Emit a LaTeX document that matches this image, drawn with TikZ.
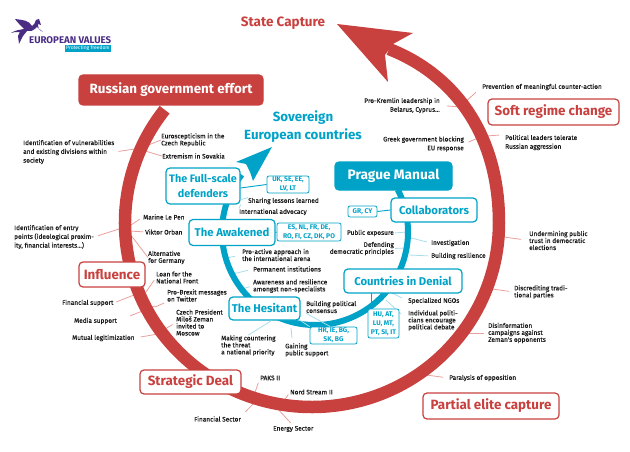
\documentclass[tikz,border=0pt]{standalone}
\usepackage{fontspec}
\setmainfont[BoldFont={Fira Sans Bold}]{Fira Sans}
\newfontfamily\lblfont[FakeBold=0.35]{Fira Sans}
\definecolor{ringred}{HTML}{C8413F}
\definecolor{tickred}{HTML}{E9A09D}
\definecolor{ringblue}{HTML}{00A3C7}
\definecolor{tickblue}{HTML}{A9DDEA}
\definecolor{logopurple}{HTML}{4A2C85}
\tikzset{
	lbl/.style={font=\lblfont\fontsize{6.5}{7}\selectfont, inner sep=0pt, align=left, anchor=west, text=black!90},
	lblr/.style={lbl, align=right, anchor=east},
	loose/.style={font=\lblfont\fontsize{6.5}{8.8}\selectfont},
	redtick/.style={tickred, line width=.8pt},
	bluetick/.style={tickblue, line width=.8pt},
	bluelink/.style={ringblue, line width=.9pt},
	redbox/.style={draw=ringred, fill=white, line width=1.2pt, rounded corners=4pt, text=ringred, font=\fontsize{13.4}{15}\selectfont\bfseries, inner sep=0pt},
	redfill/.style={redbox, fill=ringred, text=white},
	bluebox/.style={draw=ringblue, fill=white, line width=1.2pt, rounded corners=4pt, text=ringblue, font=\fontsize{11.3}{15}\selectfont\bfseries, inner sep=0pt, align=center},
	bluefill/.style={bluebox, fill=ringblue, text=white},
	ccbox/.style={draw=ringblue, fill=white, line width=.8pt, rounded corners=2pt, text=ringblue, font=\fontsize{6.8}{8.8}\selectfont\bfseries, inner sep=0pt, align=center},
}
\begin{document}
\begin{tikzpicture}[x=1pt,y=1pt]
	\useasboundingbox (0,0) rectangle (630,-452);
	% logo
	\fill[logopurple] (11,-33) .. controls (16,-30) and (19,-30) .. (24,-29) .. controls (21,-26) and (18,-23) .. (15,-19) .. controls (22,-20) and (29,-20) .. (32,-26) .. controls (34,-25) and (35,-23) .. (36,-20) -- (39,-19) -- (41,-25) -- (38,-24) .. controls (38,-28) and (39,-30) .. (43,-32) -- (37,-27) .. controls (33,-31) and (30,-32) .. (27,-31) -- (23,-36) -- (19,-44) -- (18,-36) -- (20,-32) .. controls (16,-32) and (13,-32) .. (11,-33) -- cycle;
	\node[font=\fontsize{9.7}{10}\selectfont\bfseries, text=logopurple, inner sep=0pt, anchor=west] (logotext) at (29,-40) {EUROPEAN VALUES};
	\node[fill=ringblue, text=white, font=\fontsize{5}{5}\selectfont, inner sep=0pt, minimum width=46pt, minimum height=7pt] (logotag) at (88,-48.5) {Protecting freedom};
	\node[font=\fontsize{13.5}{15}\selectfont\bfseries, text=ringred, inner sep=0pt] (capture) at (283,-23) {State Capture};
	\node[font=\fontsize{13.3}{18}\selectfont\bfseries, text=ringblue, inner sep=0pt, align=center] (sovereign) at (303,-127) {Sovereign\\European countries};

	% red side labels
	\node[lbl, loose] (vuln) at (23,-152) {Identification of vulnerabilities\\and existing divisions within\\society};
	\node[lbl] (euro) at (161,-140) {Euroscepticism in the\\Czech Republic};
	\node[lbl] (extrem) at (162,-156) {Extremism in Sovakia};
	\node[lbl] (lepen) at (143,-217) {Marine Le Pen};
	\node[lbl] (orban) at (145,-232) {Viktor Orban};
	\node[lbl, loose] (entry) at (14,-237) {Identification of entry\\points (ideological proxim-\\ity, financial interests...)};
	\node[lbl] (afd) at (148,-257.5) {Alternative\\for Germany};
	\node[lbl] (loan) at (156,-277.5) {Loan for the\\National Front};
	\node[lbl] (brexit) at (167,-295.5) {Pro-Brexit messages\\on Twitter};
	\node[lbl] (finsup) at (62,-303) {Financial support};
	\node[lbl] (media) at (74,-321) {Media support};
	\node[lbl] (mutual) at (72,-338) {Mutual legitimization};
	\node[lbl] (zeman) at (176,-322.5) {Czech President\\Miloš Zeman\\invited to\\Moscow};
	\node[lbl] (paks) at (260,-378) {PAKS II};
	\node[lbl] (finsec) at (194,-419) {Financial Sector};
	\node[lbl] (nord) at (290,-392) {Nord Stream II};
	\node[lbl] (energy) at (273,-429) {Energy Sector};
	\node[lbl] (paral) at (449,-378) {Paralysis of opposition};
	\node[lbl] (disinfo) at (488,-333) {Disinformation\\campaigns against\\Zeman's opponents};
	\node[lbl] (discred) at (514,-292) {Discrediting tradi-\\tional parties};
	\node[lbl] (underm) at (529,-240.5) {Undermining public\\trust in democratic\\elections};
	\node[lbl, loose] (polit) at (505,-142.5) {Political leaders tolerate\\Russian aggression};
	\node[lbl] (prevent) at (482,-87) {Prevention of meaningful counter-action};
	\node[lblr, loose] (kremlin) at (440,-105.5) {Pro-Kremlin leadership in\\Belarus, Cyprus...};
	\node[lblr, loose] (greek) at (464,-144) {Greek government blocking\\EU response};

	% blue side labels
	\node[lbl] (sharing) at (248,-201) {Sharing lessons learned};
	\node[lbl] (advocacy) at (239,-212) {International advocacy};
	\node[lbl] (proact) at (242,-255) {Pro-active approach in\\the international arena};
	\node[lbl] (perm) at (253,-269) {Permanent institutions};
	\node[lbl] (aware) at (253,-286) {Awareness and resilience\\amongst non-specialists};
	\node[lbl] (consens) at (306,-307) {Building political\\consensus};
	\node[lbl] (making) at (221,-345.5) {Making countering\\the threat\\a national priority};
	\node[lbl] (gaining) at (285,-350) {Gaining\\public support};
	\node[lbl] (ngos) at (408,-301) {Specialized NGOs};
	\node[lbl] (indiv) at (408,-320.5) {Individual politi-\\cians encourage\\political debate};
	\node[lbl] (invest) at (431,-243) {Investigation};
	\node[lbl] (resil) at (431,-256) {Building resilience};
	\node[lblr] (expos) at (394,-233) {Public exposure};
	\node[lblr] (defend) at (394,-248.5) {Defending\\democratic principles};

	% free ends on the rings
	\coordinate (vulnR) at (135,-149);
	\coordinate (euroR) at (146,-146);
	\coordinate (extremR) at (145,-151);
	\coordinate (lepenR) at (128,-227);
	\coordinate (orbanR) at (130,-231);
	\coordinate (entryR) at (119,-229);
	\coordinate (afdR) at (130,-234);
	\coordinate (loanR) at (146,-292);
	\coordinate (brexitR) at (155,-307);
	\coordinate (finsupR) at (134,-295);
	\coordinate (mediaR) at (155,-306);
	\coordinate (mutualR) at (158,-334);
	\coordinate (zemanR) at (165,-329);
	\coordinate (paksR) at (252,-401);
	\coordinate (finsecR) at (254,-403);
	\coordinate (nordR) at (282,-404);
	\coordinate (energyR) at (277,-408);
	\coordinate (paralR) at (426,-375);
	\coordinate (disinfoR) at (468,-333);
	\coordinate (discredR) at (492,-289);
	\coordinate (undermR) at (504,-237);
	\coordinate (politR) at (486,-136);
	\coordinate (preventR) at (464,-103);
	\coordinate (kremlinR) at (461,-107);
	\coordinate (greekR) at (478,-138);
	\coordinate (proactR) at (226,-258);
	\coordinate (permR) at (233,-274);
	\coordinate (awareR) at (241,-289);
	\coordinate (investR) at (411,-238);
	\coordinate (resilR) at (409,-255);
	\coordinate (exposR) at (407,-232);
	\coordinate (defendR) at (405,-248);
	\coordinate (ngosR) at (392,-293);
	\coordinate (indivR) at (386,-300);

	\path [redtick, shorten <=4pt] (vuln.east) edge (vulnR);
	\path [redtick] (euro.west) edge (euroR);
	\path [redtick] (extrem.west) edge (extremR);
	\path [redtick, shorten <=4pt] (lepen.west) edge (lepenR);
	\path [redtick, shorten <=2pt] (orban.west) edge (orbanR);
	\path [redtick, shorten <=4pt] (entry.east) edge (entryR);
	\path [redtick] (afd.west) edge (afdR);
	\path [redtick, shorten <=3pt] (loan.west) edge (loanR);
	\path [redtick, shorten <=3pt] (brexit.south west) edge (brexitR);
	\path [redtick, shorten <=3pt] (finsup.east) edge (finsupR);
	\path [redtick, shorten <=14pt] (media.east) edge (mediaR);
	\path [redtick, shorten <=6pt] (mutual.east) edge (mutualR);
	\path [redtick, shorten <=4pt] (zeman.west) edge (zemanR);
	\path [redtick, shorten <=5pt] (paks.west) edge (paksR);
	\path [redtick, shorten <=6pt] (finsec.north east) edge (finsecR);
	\path [redtick, shorten <=3pt] (nord.west) edge (nordR);
	\path [redtick, shorten <=4pt] (energy.north) edge (energyR);
	\path [redtick, shorten <=6pt] (paral.west) edge (paralR);
	\path [redtick, shorten <=4pt] (disinfo.west) edge (disinfoR);
	\path [redtick, shorten <=5pt] (discred.west) edge (discredR);
	\path [redtick, shorten <=8pt] (underm.west) edge (undermR);
	\path [redtick, shorten <=6pt] (polit.north west) edge (politR);
	\path [redtick, shorten <=8pt] (prevent.west) edge (preventR);
	\path [redtick, shorten <=7pt] (kremlin.east) edge (kremlinR);
	\path [redtick, shorten <=5pt] (greek.east) edge (greekR);
	\path [bluetick, shorten <=7pt] (proact.west) edge (proactR);
	\path [bluetick, shorten <=5pt] (perm.west) edge (permR);
	\path [bluetick, shorten <=3pt] (aware.west) edge (awareR);
	\path [bluetick, shorten <=4pt] (invest.west) edge (investR);
	\path [bluetick, shorten <=3pt] (resil.west) edge (resilR);
	\path [bluetick, shorten <=1pt] (expos.east) edge (exposR);
	\path [bluetick, shorten <=1pt] (defend.east) edge (defendR);
	\path [bluetick, shorten <=7pt] (ngos.west) edge (ngosR);
	\path [bluetick, shorten <=10pt] (indiv.west) edge (indivR);

	% rings
	\draw[ringred, line width=12.5pt] (312,-223) ++(142:187pt and 184pt) arc[start angle=142, end angle=360, x radius=187pt, y radius=184pt] .. controls (499,-135) and (455,-75) .. (389,-49);
	\fill[ringred] (337,-24) -- (413,-33) -- (393,-44) -- (385,-55) -- (388,-82) -- cycle;
	\draw[ringblue, line width=6pt] (315,-232) ++(27:93pt) arc[start angle=27, end angle=-218, radius=93pt];
	\fill[ringblue] (272,-147) -- (236,-162) -- (246,-164) -- (250,-172) -- (253,-181) -- cycle;

	% boxes
	\node[redfill, minimum width=184pt, minimum height=30pt] (effort) at (171,-90) {Russian government effort};
	\node[redbox, minimum width=66pt, minimum height=25pt] (influence) at (112,-274.5) {Influence};
	\node[redbox, minimum width=101pt, minimum height=24pt] (deal) at (190.5,-382) {Strategic Deal};
	\node[redbox, minimum width=131pt, minimum height=26pt] (softchange) at (553.5,-112) {Soft regime change};
	\node[redbox, minimum width=136pt, minimum height=26pt] (partial) at (491,-406) {Partial elite capture};
	\node[bluefill, minimum width=117pt, minimum height=28pt, font=\fontsize{13.7}{15}\selectfont\bfseries] (manual) at (393.5,-176) {Prague Manual};
	\node[bluebox, minimum width=86pt, minimum height=24pt] (collab) at (434,-210) {Collaborators};
	\node[bluebox, minimum width=118pt, minimum height=24pt] (denial) at (403,-281) {Countries in Denial};
	\node[bluebox, minimum width=74pt, minimum height=36pt, font=\fontsize{10.8}{15}\selectfont\bfseries] (fullscale) at (203,-186) {The Full-scale\\defenders};
	\node[bluebox, minimum width=86pt, minimum height=26pt] (awakened) at (232,-232.5) {The Awakened};
	\node[bluebox, minimum width=71pt, minimum height=23pt] (hesitant) at (264.5,-308.5) {The Hesitant};

	\node[ccbox, minimum width=42pt, minimum height=17pt] (ccfull) at (288,-184.5) {UK, SE, EE,\\LV, LT};
	\node[ccbox, minimum width=64pt, minimum height=18pt] (ccawake) at (309,-232) {ES, NL, FR, DE,\\RO, FI, CZ, DK, PO};
	\node[ccbox, minimum width=47pt, minimum height=17pt] (cches) at (333.5,-335.5) {HR, IE, BG,\\SK, BG};
	\node[ccbox, minimum width=31pt, minimum height=29pt] (ccden) at (383.5,-323.5) {HU, AT,\\LU, MT,\\PT, SI, IT};
	\node[ccbox, minimum width=29pt, minimum height=11pt] (cccol) at (362.5,-211.5) {GR, CY};

	\coordinate (denialfoot) at (371,-293);
	\coordinate (dencc) at (371,-309);
	\coordinate (gainR) at (291,-328);
	\coordinate (gainT) at (292,-338);
	\path [bluelink] (fullscale.-3) edge (ccfull.west);
	\path [bluelink] (awakened.east) edge (ccawake.west);
	\path [bluelink] (collab.west) edge (cccol.east);
	\path [bluelink] (denialfoot) edge (dencc);
	\path [bluetick] (fullscale.-20) edge (sharing.north west);
	\path [bluetick] (fullscale.south east) edge (advocacy.north west);
	\path [bluetick] (hesitant.south east) edge (cches.north west);
	\path [bluetick] (consens.south west) edge (cches.110);
	\path [bluetick] (hesitant.-60) edge (making.north);
	\path [bluetick] (gainR) edge (gainT);
\end{tikzpicture}
\end{document}
